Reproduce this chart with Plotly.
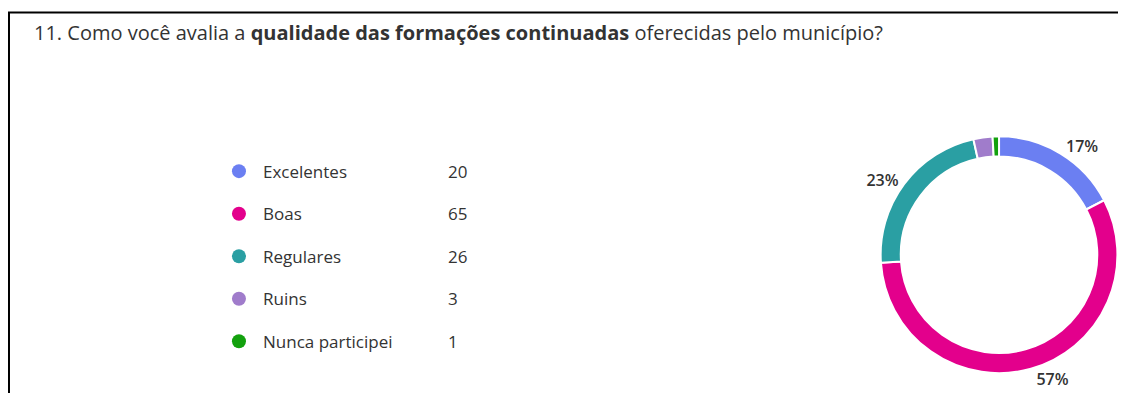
import plotly.graph_objects as go

categories = ["Excelentes", "Boas", "Regulares", "Ruins", "Nunca participei"]
counts = [20, 65, 26, 3, 1]
colors = ["#6b7ff2", "#e3008c", "#2a9fa3", "#a07ccb", "#13a10e"]
title_html = ("11. Como você avalia a <b>qualidade das formações continuadas</b> "
              "oferecidas pelo município?")

# the page body has an 8px margin; the figure is sized to fit inside the window
OFF = 8
W, H = 1131 - 2 * OFF, 403 - 2 * OFF
FONT = "Open Sans"
TXT = "#333333"

total = sum(counts)
pct_text = [f"{round(100 * c / total)}%" if 100 * c / total >= 5 else "" for c in counts]

fig = go.Figure()

# donut (positions in page pixels, converted to figure coordinates)
cx, cy, r = 1003.5 - OFF, 256 - OFF, 119
x0d, x1d = max(0.0, (cx - r) / W), min(1.0, (cx + r) / W)
y0d, y1d = max(0.0, (H - cy - r) / H), min(1.0, (H - cy + r) / H)
fig.add_trace(go.Pie(
    labels=categories, values=counts, text=pct_text,
    textinfo="text", textposition="outside",
    textfont=dict(family=FONT, size=16, color=TXT, weight=600),
    hole=0.83, sort=False, direction="clockwise", rotation=0,
    marker=dict(colors=colors, line=dict(color="white", width=2)),
    domain=dict(x=[x0d, x1d], y=[y0d, y1d]),
    showlegend=False, hoverinfo="label+value+percent",
))

# custom legend
rows = list(range(len(categories)))
fig.add_trace(go.Scatter(
    x=[0] * len(rows), y=rows, mode="markers",
    marker=dict(size=14, color=colors, line=dict(width=0)),
    showlegend=False, hoverinfo="skip", xaxis="x", yaxis="y",
))
px0, pscale = 240 - OFF, 208          # marker column and count column 208px apart
row0, rstep = 172 - OFF, 42.75
label_dx = 22 / pscale

annotations = []
for i, (cat, cnt) in enumerate(zip(categories, counts)):
    annotations.append(dict(x=label_dx, y=i, xref="x", yref="y", text=cat, showarrow=False,
                            xanchor="left", yanchor="middle",
                            font=dict(family=FONT, size=17, color=TXT)))
    annotations.append(dict(x=1.0, y=i, xref="x", yref="y", text=str(cnt), showarrow=False,
                            xanchor="left", yanchor="middle",
                            font=dict(family=FONT, size=17, color=TXT)))

annotations.append(dict(x=(32 - OFF) / W, y=1 - (33 - OFF) / H, xref="paper", yref="paper",
                        text=title_html, showarrow=False, xanchor="left", yanchor="middle",
                        font=dict(family=FONT, size=20, color=TXT)))

fig.update_layout(
    width=W, height=H, margin=dict(l=0, r=0, t=0, b=0),
    paper_bgcolor="white", plot_bgcolor="rgba(0,0,0,0)",
    xaxis=dict(domain=[0, 1], range=[-px0 / pscale, (W - px0) / pscale], visible=False, fixedrange=True),
    yaxis=dict(domain=[0, 1], range=[(H - row0) / rstep, -row0 / rstep], visible=False, fixedrange=True),
    annotations=annotations,
    shapes=[
        dict(type="line", xref="paper", yref="paper", x0=0, x1=1,
             y0=1 - (12.5 - OFF) / H, y1=1 - (12.5 - OFF) / H,
             line=dict(color="black", width=2)),
        dict(type="line", xref="paper", yref="paper", x0=1 / W, x1=1 / W, y0=0,
             y1=1 - (12.5 - OFF) / H, line=dict(color="black", width=2)),
    ],
)

fig.write_html("out.html")
